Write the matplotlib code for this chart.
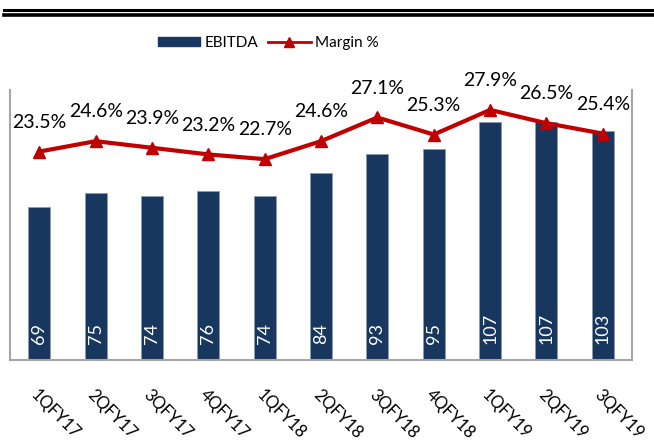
import matplotlib.pyplot as plt
import matplotlib.lines as mlines

plt.rcParams['font.family'] = ['Lato', 'DejaVu Sans']

quarters = ['1QFY17', '2QFY17', '3QFY17', '4QFY17', '1QFY18', '2QFY18',
            '3QFY18', '4QFY18', '1QFY19', '2QFY19', '3QFY19']
ebitda = [69, 75, 74, 76, 74, 84, 93, 95, 107, 107, 103]
margin = [23.5, 24.6, 23.9, 23.2, 22.7, 24.6, 27.1, 25.3, 27.9, 26.5, 25.4]

navy = '#17375E'
red = '#C00000'

fig = plt.figure(figsize=(6.54, 4.43), dpi=100)
ax = fig.add_axes([0.0153, 0.1874, 0.9511, 0.6094])
x = list(range(len(quarters)))

ax.bar(x, ebitda, width=0.39, color=navy, edgecolor='#8C9BB0', linewidth=0.6, zorder=2)
for xi, v in zip(x, ebitda):
    ax.text(xi, 7, str(v), rotation=90, color='white', ha='center', va='bottom',
            fontsize=13, zorder=3)

ax.set_xlim(-0.52, 10.52)
ax.set_ylim(0, 121.6)
ax.set_yticks([])
ax.set_xticks(x)
ax.set_xticklabels(quarters, rotation=-45, ha='left', va='top',
                   rotation_mode='anchor', fontsize=12)
ax.tick_params(axis='x', length=0, pad=19)
for s in ['left', 'bottom', 'right']:
    ax.spines[s].set_color('#A6A6A6')
    ax.spines[s].set_linewidth(1.5)
ax.spines['top'].set_visible(False)

ax2 = ax.twinx()
ax2.plot(x, margin, color=red, linewidth=3, marker='^', markersize=8, zorder=4)
for xi, m in zip(x, margin):
    ax2.annotate(f'{m:.1f}%', (xi, m), xytext=(0, 15), textcoords='offset points',
                 ha='center', va='bottom', fontsize=14, color='black')
ax2.set_ylim(1.5, 30)
ax2.set_yticks([])
ax2.set_xlim(-0.52, 10.52)
for s in ax2.spines.values():
    s.set_visible(False)

# legend
bar_handle = plt.Rectangle((0, 0), 1, 1, color=navy)
line_handle = mlines.Line2D([], [], color=red, linewidth=2, marker='^', markersize=7)
fig.legend([bar_handle, line_handle], ['EBITDA', 'Margin %'], ncol=2,
           loc='center', bbox_to_anchor=(0.41, 0.903), frameon=False,
           fontsize=11, handlelength=2.8, handleheight=0.5, handletextpad=0.3,
           columnspacing=0.6)

# double rule at top
fig.add_artist(mlines.Line2D([0.006, 1], [1 - 9.5 / 443, 1 - 9.5 / 443],
                             color='black', linewidth=2.2, transform=fig.transFigure))
fig.add_artist(mlines.Line2D([0.006, 1], [1 - 15 / 443, 1 - 15 / 443],
                             color='black', linewidth=2.6, transform=fig.transFigure))

fig.savefig('out.png', dpi=100)
